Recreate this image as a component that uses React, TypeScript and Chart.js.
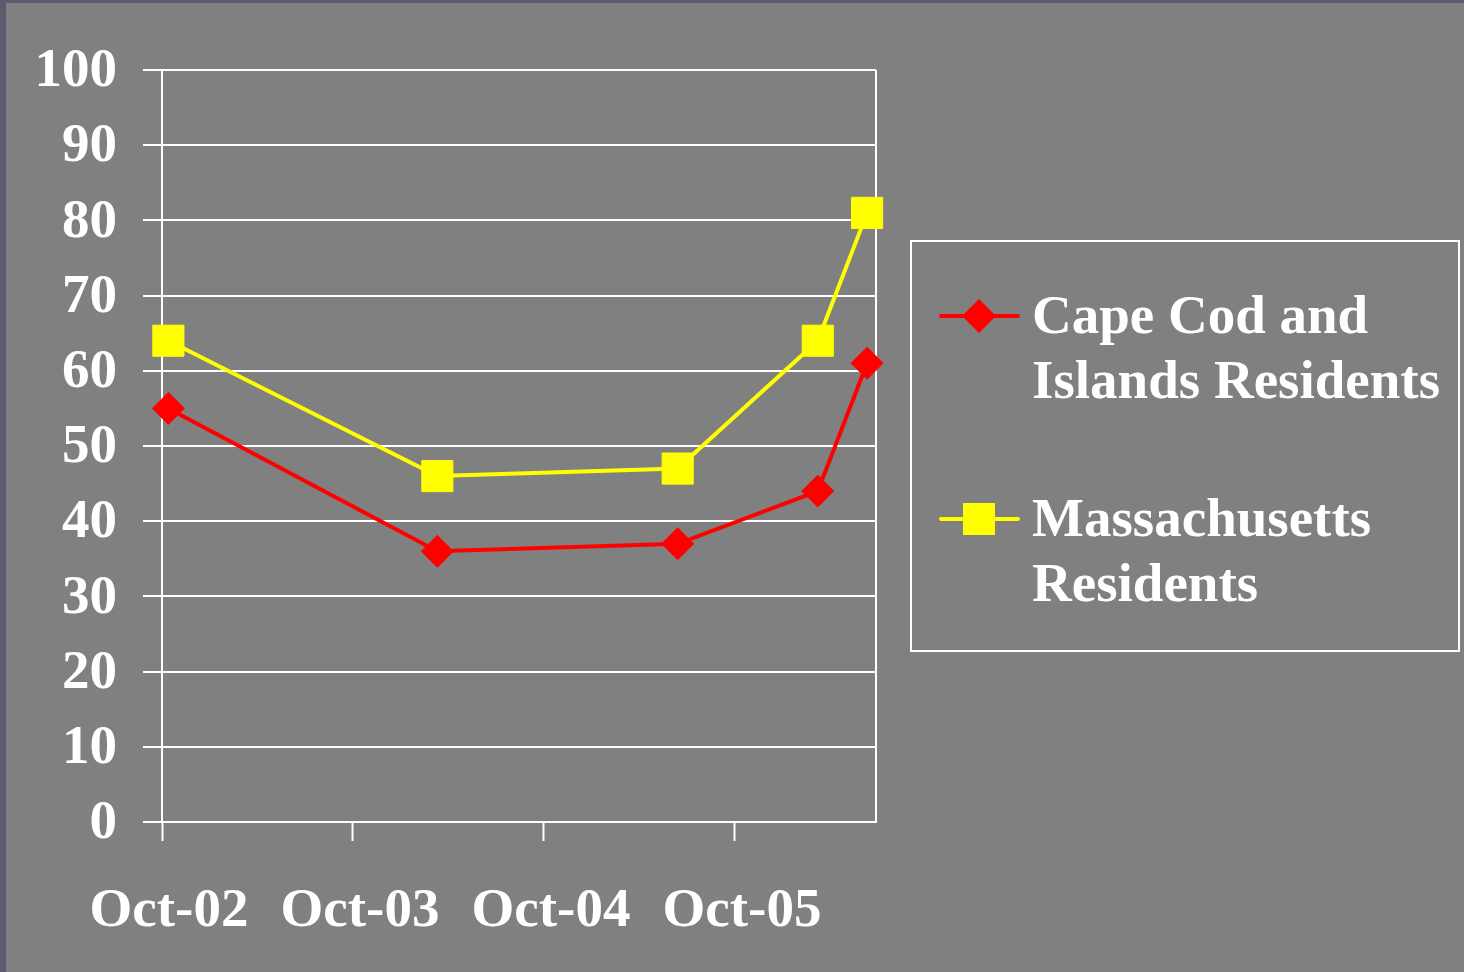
import React, { useEffect, useRef } from 'react';
import { Chart, registerables } from 'chart.js';

Chart.register(...registerables);

// months elapsed since October 2002
const monthsSinceOct02 = [0.4, 17.3, 32.4, 41.2, 44.3];
const capeCodValues = [55, 36, 37, 44, 61];
const massachusettsValues = [64, 46, 47, 64, 81];
const xTickValues = [0, 12, 24, 36];
const xTickLabels = ['Oct-02', 'Oct-03', 'Oct-04', 'Oct-05'];
const seriesLabels = ['Cape Cod and Islands Residents', 'Massachusetts Residents'];
const legendLines = [
  ['Cape Cod and', 'Islands Residents'],
  ['Massachusetts', 'Residents'],
];

const FONT_FAMILY = "'Liberation Serif', 'Times New Roman', serif";
const FONT_SIZE = 55;

const frameAndLegend = {
  id: 'frameAndLegend',
  beforeDatasetsDraw(chart: any) {
    const { ctx, chartArea } = chart;
    ctx.save();
    ctx.strokeStyle = '#ffffff';
    ctx.lineWidth = 2;
    ctx.beginPath();
    ctx.moveTo(chartArea.right, chartArea.top);
    ctx.lineTo(chartArea.right, chartArea.bottom);
    ctx.stroke();
    ctx.restore();
  },
  afterDraw(chart: any) {
    const { ctx } = chart;
    ctx.save();
    ctx.strokeStyle = '#ffffff';
    ctx.lineWidth = 2;
    ctx.strokeRect(911, 241, 548, 410);
    const rows = [316, 519];
    chart.data.datasets.forEach((ds: any, i: number) => {
      const y = rows[i];
      ctx.strokeStyle = ds.borderColor;
      ctx.lineWidth = 4;
      ctx.lineCap = 'round';
      ctx.beginPath();
      ctx.moveTo(941, y);
      ctx.lineTo(1018, y);
      ctx.stroke();
      ctx.fillStyle = ds.pointBackgroundColor;
      ctx.beginPath();
      if (ds.pointStyle === 'rectRot') {
        const r = 17;
        ctx.moveTo(979, y - r);
        ctx.lineTo(979 + r, y);
        ctx.lineTo(979, y + r);
        ctx.lineTo(979 - r, y);
        ctx.closePath();
      } else {
        ctx.rect(979 - 16, y - 16, 32, 32);
      }
      ctx.fill();
      ctx.fillStyle = '#ffffff';
      ctx.font = `bold ${FONT_SIZE}px ${FONT_FAMILY}`;
      ctx.textBaseline = 'middle';
      ctx.textAlign = 'left';
      legendLines[i].forEach((t, j) => {
        ctx.fillText(t, 1032, y + 3 + j * 65);
      });
    });
    ctx.restore();
  },
};

export default function App() {
  const canvasRef = useRef<HTMLCanvasElement | null>(null);

  useEffect(() => {
    document.body.style.margin = '0';
    const canvas = canvasRef.current;
    if (!canvas) return;
    const font = { family: FONT_FAMILY, size: FONT_SIZE, weight: 'bold' as const };
    const chart = new Chart(canvas, {
      type: 'line',
      data: {
        datasets: [
          {
            label: seriesLabels[0],
            data: monthsSinceOct02.map((m, i) => ({ x: m, y: capeCodValues[i] })),
            borderColor: '#ff0000',
            backgroundColor: '#ff0000',
            pointBackgroundColor: '#ff0000',
            pointBorderColor: '#ff0000',
            pointStyle: 'rectRot',
            pointRadius: 16,
            pointBorderWidth: 1,
            borderWidth: 4,
            tension: 0,
            clip: false,
          } as any,
          {
            label: seriesLabels[1],
            data: monthsSinceOct02.map((m, i) => ({ x: m, y: massachusettsValues[i] })),
            borderColor: '#ffff00',
            backgroundColor: '#ffff00',
            pointBackgroundColor: '#ffff00',
            pointBorderColor: '#ffff00',
            pointStyle: 'rect',
            pointRadius: 22,
            pointBorderWidth: 1,
            borderWidth: 4,
            tension: 0,
            clip: false,
          } as any,
        ],
      },
      options: {
        responsive: false,
        animation: false,
        events: [],
        layout: { padding: { left: 0, top: 70, right: 1464 - 876, bottom: 0 } },
        plugins: { legend: { display: false }, tooltip: { enabled: false } },
        scales: {
          x: {
            type: 'linear',
            min: 0,
            max: 44.86,
            afterBuildTicks: (scale: any) => {
              scale.ticks = xTickValues.map((v) => ({ value: v }));
            },
            afterFit: (scale: any) => {
              scale.height = 150;
            },
            ticks: {
              color: '#ffffff',
              font,
              padding: 38,
              labelOffset: 7,
              maxRotation: 0,
              autoSkip: false,
              callback: (v: any) => {
                const idx = xTickValues.indexOf(Number(v));
                return idx >= 0 ? xTickLabels[idx] : '';
              },
            },
            grid: {
              drawOnChartArea: false,
              drawTicks: true,
              tickLength: 19,
              tickWidth: 2,
              tickColor: '#ffffff',
              color: '#ffffff',
            },
            border: { color: '#ffffff', width: 2 },
          },
          y: {
            min: 0,
            max: 100,
            afterFit: (scale: any) => {
              scale.width = 162;
            },
            ticks: { stepSize: 10, color: '#ffffff', font, padding: 26, labelOffset: 2 },
            grid: {
              color: '#ffffff',
              lineWidth: 2,
              tickLength: 19,
              tickWidth: 2,
              tickColor: '#ffffff',
            },
            border: { color: '#ffffff', width: 2 },
          },
        },
      },
      plugins: [frameAndLegend],
    });
    return () => chart.destroy();
  }, []);

  return (
    <div
      style={{
        position: 'fixed',
        left: 0,
        top: 0,
        width: 1464,
        height: 972,
        background: '#808080',
        boxSizing: 'border-box',
        borderLeft: '6px solid #5a5c6e',
        borderTop: '3px solid #5a5c6e',
      }}
    >
      <canvas
        ref={canvasRef}
        width={1464}
        height={972}
        style={{ position: 'absolute', left: -6, top: -3, width: 1464, height: 972 }}
      />
    </div>
  );
}
